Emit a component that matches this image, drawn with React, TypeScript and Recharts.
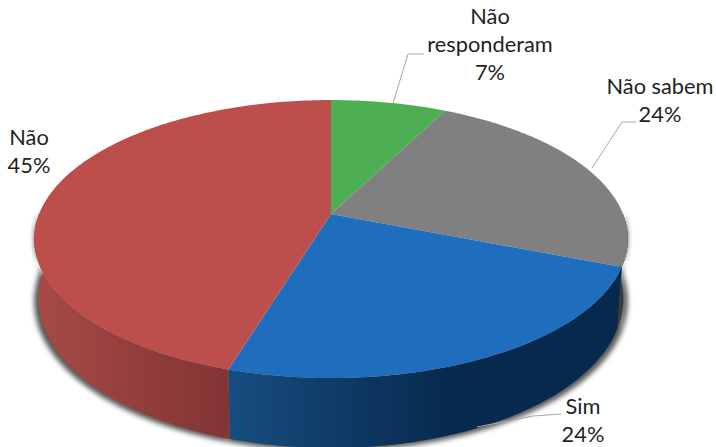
import { PieChart, Pie } from "recharts";

const CATEGORIES = ["Não responderam", "Não sabem", "Sim", "Não"];
const VALUES = [7.49, 23.51, 23.7, 45.3];
const TOP_COLORS = ["#4EAE53", "#808080", "#1F6DBD", "#BC4F4C"];
// wall gradient stops, left to right
const WALL_STOPS = [
  ["#2f6b33", "#2f6b33"],
  ["#3c3c3c", "#262626"],
  ["#174D80", "#07294D"],
  ["#A84A46", "#813534"],
];

const chartData = CATEGORIES.map((name, i) => ({ name, value: VALUES[i] }));

// fake perspective on the pie disc
const WIDTH = 716;
const HEIGHT = 447;
const CENTER_X = 331;
const CENTER_Y = 214;
const RADIUS = 292;
const SQUASH = 134.5 / 292;
const TILT = 0.18;

// label placement: text centre x, first baseline, leader line
const LABEL_LAYOUT = [
  { x: 490, y: 24, leader: "393,103 408,54 424,54" },
  { x: 660, y: 94, leader: "592,168 622,122 636,122" },
  { x: 583, y: 414, leader: "477,427 533,416 561,414" },
  { x: 29, y: 145, leader: "" },
];

type SectorProps = {
  cx: number;
  cy: number;
  outerRadius: number;
  startAngle: number;
  endAngle: number;
  index: number;
};

const project = (p: SectorProps, t: number) => {
  const rad = (t * Math.PI) / 180;
  const u = Math.sin(rad);
  const v = Math.cos(rad);
  const w = 1 + TILT * v;
  return {
    x: p.cx + (p.outerRadius * u) / w,
    y: p.cy - (p.outerRadius * SQUASH * v) / w,
    v,
  };
};

const sweep = (from: number, to: number) => {
  const out: number[] = [];
  const steps = Math.max(2, Math.ceil(Math.abs(to - from)));
  for (let i = 0; i <= steps; i++) out.push(from + ((to - from) * i) / steps);
  return out;
};

// Recharts angles run clockwise from 90; turn them into degrees from 12 o'clock
const range = (p: SectorProps) => [90 - p.startAngle, 90 - p.endAngle];

const TopSlice = (p: SectorProps) => {
  const [a, b] = range(p);
  const pts = sweep(a, b).map((t) => project(p, t));
  const d =
    `M${p.cx},${p.cy} ` + pts.map((q) => `L${q.x},${q.y}`).join(" ") + " Z";
  return <path d={d} fill={TOP_COLORS[p.index]} stroke="none" />;
};

const wallPath = (p: SectorProps, grow: number, drop: number) => {
  const [a, b] = range(p);
  const from = Math.max(a, 90);
  const to = Math.min(b, 270);
  if (to <= from) return "";
  const upper = sweep(from, to).map((t) => project(p, t));
  const lower = sweep(to, from).map((t) => {
    const q = project(p, t);
    const depth = 57 - 13 * q.v;
    return { x: p.cx + (q.x - p.cx) * grow, y: q.y + depth + drop };
  });
  return (
    [...upper, ...lower]
      .map((q, i) => `${i ? "L" : "M"}${q.x},${q.y}`)
      .join(" ") + " Z"
  );
};

const WallSlice = (p: SectorProps) => {
  const d = wallPath(p, 0.985, 0);
  if (!d) return <g />;
  const id = `wall-${p.index}`;
  const pts = sweep(...(range(p) as [number, number]))
    .filter((t) => t >= 90 && t <= 270)
    .map((t) => project(p, t).x);
  return (
    <g>
      <defs>
        <linearGradient
          id={id}
          gradientUnits="userSpaceOnUse"
          x1={Math.min(...pts)}
          x2={p.index === 2 ? 450 : Math.max(...pts)}
          y1={0}
          y2={0}
        >
          <stop offset="0" stopColor={WALL_STOPS[p.index][0]} />
          <stop offset="1" stopColor={WALL_STOPS[p.index][1]} />
        </linearGradient>
      </defs>
      <path d={d} fill={`url(#${id})`} stroke="none" />
    </g>
  );
};

const ShadowSlice = (p: SectorProps) => {
  const d = wallPath(p, 1.0, 3);
  if (!d) return <g />;
  return (
    <path
      d={d}
      fill="#222"
      fillOpacity={0.75}
      stroke="none"
      style={{ filter: "blur(2.5px)" }}
    />
  );
};

const renderLabel = (props: { index: number; percent: number }) => {
  const { index, percent } = props;
  const spot = LABEL_LAYOUT[index];
  // the long name wraps after its first word
  const lines =
    index === 0 ? CATEGORIES[index].split(" ") : [CATEGORIES[index]];
  const all = [...lines, `${Math.round(percent * 100)}%`];
  return (
    <g key={index}>
      {spot.leader && (
        <polyline
          points={spot.leader}
          fill="none"
          stroke="#a6a6a6"
          strokeWidth={1}
        />
      )}
      <text
        textAnchor="middle"
        fontFamily="Lato, sans-serif"
        fontSize={21.8}
        fill="#1f1f1f"
      >
        {all.map((line, i) => (
          <tspan key={i} x={spot.x} y={spot.y + i * 28}>
            {line}
          </tspan>
        ))}
      </text>
    </g>
  );
};

const pieProps = {
  data: chartData,
  dataKey: "value",
  nameKey: "name",
  cx: CENTER_X,
  cy: CENTER_Y,
  innerRadius: 0,
  outerRadius: RADIUS,
  startAngle: 90,
  endAngle: -270,
  stroke: "none",
  isAnimationActive: false,
  legendType: "none" as const,
};

export default function App() {
  return (
    <div style={{ position: "absolute", left: 0, top: 0, width: WIDTH, height: HEIGHT, overflow: "hidden" }}>
      <PieChart width={WIDTH} height={HEIGHT} margin={{ top: 0, right: 0, bottom: 0, left: 0 }}>
        <Pie {...pieProps} shape={ShadowSlice as any} />
        <Pie {...pieProps} shape={WallSlice as any} />
        <Pie {...pieProps} shape={TopSlice as any} label={renderLabel as any} labelLine={false} />
      </PieChart>
    </div>
  );
}
